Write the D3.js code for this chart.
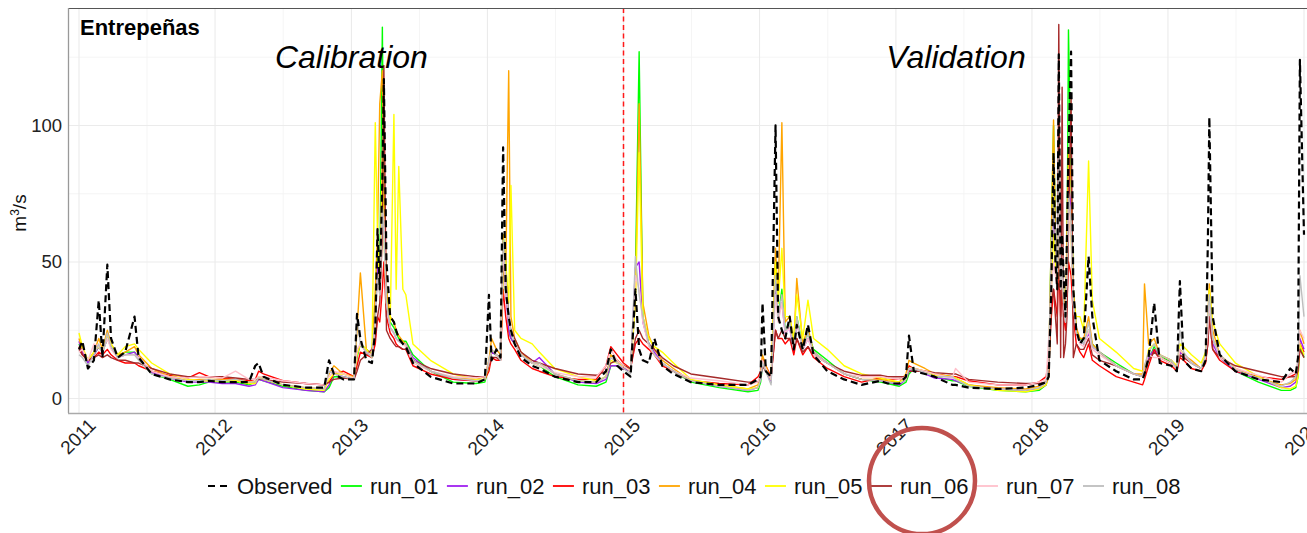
<!DOCTYPE html>
<html>
<head>
<meta charset="utf-8">
<script src="https://cdn.jsdelivr.net/npm/d3@7"></script>
<style>
  body { margin: 0; background: #fff; }
  text { font-family: "Liberation Sans", Arial, sans-serif; }
</style>
</head>
<body>
<svg id="chart" width="1307" height="533"></svg>
<script>
// daily flow samples (one line per year)
const dates = [
  '2011-01-01','2011-01-10','2011-01-25','2011-02-10','2011-02-23','2011-03-05','2011-03-18','2011-03-28','2011-04-15','2011-05-05','2011-05-30','2011-06-10','2011-07-15','2011-09-01','2011-10-20','2011-11-20','2011-12-15',
  '2012-01-20','2012-02-25','2012-04-01','2012-04-18','2012-04-27','2012-05-10','2012-07-01','2012-09-01','2012-10-20','2012-11-02','2012-11-15','2012-12-10',
  '2013-01-08','2013-01-16','2013-01-25','2013-02-10','2013-02-25','2013-03-06','2013-03-12','2013-03-18','2013-03-25','2013-03-29','2013-04-05','2013-04-15','2013-04-25','2013-05-01','2013-05-08','2013-05-19','2013-05-27','2013-06-15','2013-08-01','2013-10-01','2013-12-01','2013-12-25',
  '2014-01-05','2014-01-12','2014-01-25','2014-02-05','2014-02-12','2014-02-19','2014-02-27','2014-03-05','2014-03-15','2014-04-01','2014-05-01','2014-05-20','2014-07-01','2014-09-01','2014-10-20','2014-11-15','2014-11-28','2014-12-15',
  '2015-01-01','2015-01-20','2015-02-02','2015-02-12','2015-02-22','2015-03-10','2015-03-25','2015-04-15','2015-05-15','2015-07-01','2015-09-15','2015-12-01','2015-12-28',
  '2016-01-04','2016-01-09','2016-01-18','2016-02-01','2016-02-13','2016-02-20','2016-03-01','2016-03-10','2016-03-22','2016-04-02','2016-04-10','2016-04-26','2016-05-10','2016-05-25','2016-07-01','2016-08-15','2016-10-01','2016-11-20','2016-12-10',
  '2017-01-10','2017-01-28','2017-02-05','2017-02-18','2017-03-20','2017-04-15','2017-06-01','2017-06-10','2017-07-15','2017-10-01','2017-12-15',
  '2018-01-20','2018-02-08','2018-02-15','2018-02-22','2018-02-28','2018-03-05','2018-03-10','2018-03-14','2018-03-19','2018-03-23','2018-03-27','2018-04-01','2018-04-05','2018-04-09','2018-04-16','2018-04-22','2018-04-30','2018-05-10','2018-05-20','2018-06-02','2018-06-12','2018-07-01','2018-08-15','2018-10-01','2018-10-25','2018-10-30','2018-11-10','2018-11-25','2018-12-10',
  '2019-01-10','2019-01-25','2019-02-02','2019-02-12','2019-03-05','2019-03-31','2019-04-12','2019-04-18','2019-04-22','2019-05-01','2019-05-20','2019-07-01','2019-09-01','2019-11-01','2019-11-25','2019-12-10','2019-12-16','2019-12-21',
  '2020-01-01'
];

const observed = [
  18, 21, 11, 14, 36, 15, 49, 22, 15, 17, 30, 15, 9, 7, 6, 6, 6.5,
  6, 6, 6, 12, 13, 8, 5, 4, 4, 14, 9, 7,
  7, 31, 22, 14, 13, 25, 62, 40, 80, 117, 50, 30, 28, 25, 22, 20, 19, 13, 8, 5.5, 5.5, 7,
  38, 14, 18, 15, 92, 40, 30, 25, 20, 15, 12, 11, 8, 6, 6, 10, 18, 12,
  10, 8, 40, 18, 14, 13, 22, 12, 9, 6, 5, 5, 7,
  8, 35, 10, 8, 100, 30, 25, 22, 30, 18, 27, 18, 27, 16, 10, 7, 5, 6.5, 5.5,
  5.5, 8, 23, 10, 9, 8, 5, 5, 4, 3.5, 4,
  5, 6, 8, 40, 90, 50, 40, 126, 40, 60, 45, 30, 60, 90, 127, 40, 25, 20, 22, 52, 30, 14, 10, 7, 7, 9, 15, 35, 13,
  12, 10, 43, 14, 11, 10, 14, 57, 103, 30, 16, 10, 7, 6, 11, 9, 15, 124,
  60
];

const run01 = [
  20, 17, 13, 16, 19, 17, 22, 19, 15, 17, 17, 15, 9, 7, 4.5, 5, 6,
  6, 6, 5, 6, 7, 6.5, 4.5, 3, 2.5, 4, 8, 8,
  7, 15, 20, 18, 16, 35, 55, 45, 136, 70, 40, 28, 26, 24, 22, 21, 21, 16, 10, 6, 5.5, 6,
  12, 17, 16, 15, 60, 50, 25, 22, 20, 16, 13, 12, 8, 5, 4.5, 6, 12, 12,
  11, 10, 45, 127, 30, 20, 16, 13, 10, 6, 4, 2.5, 3,
  6, 12, 10, 6, 45, 30, 40, 25, 28, 18, 30, 19, 24, 18, 14, 9, 7, 6, 5.5,
  4.5, 6, 9, 11, 9, 8, 6.5, 6.5, 4.5, 3, 2.5,
  3, 5, 10, 60, 100, 60, 45, 70, 40, 50, 40, 30, 50, 135, 80, 40, 25, 22, 20, 25, 20, 17, 13, 9, 8, 10, 14, 19, 16,
  13, 11, 18, 16, 13, 11, 15, 25, 35, 22, 15, 10, 6, 3, 3, 4, 8, 20,
  15
];

const run02 = [
  21, 17, 13, 16, 19, 17, 22, 19, 15, 16, 17, 15, 9.5, 7.5, 6, 6, 6,
  5.5, 5.5, 4.5, 5, 7, 6.5, 4, 3, 2.5, 5, 9, 8,
  7, 16, 20, 17, 15, 30, 50, 40, 90, 80, 35, 26, 24, 22, 21, 20, 20, 15, 10, 7, 6.5, 7,
  12, 17, 16, 15, 55, 40, 25, 22, 20, 16, 13, 15, 9, 6, 5.5, 7, 12, 12,
  11, 10, 48, 50, 28, 20, 17, 13, 10, 6.5, 4.5, 3, 4,
  7, 12, 10, 6, 42, 30, 35, 24, 26, 17, 28, 18, 22, 17, 13, 9, 7, 6.5, 6,
  5, 7, 10, 11, 9, 7.5, 7, 6.5, 5, 3.5, 3,
  3.5, 5, 9, 50, 70, 55, 45, 80, 40, 50, 35, 28, 45, 80, 70, 35, 24, 21, 20, 24, 19, 17, 12, 9, 8, 10, 15, 18, 16,
  14, 11, 17, 16, 13, 11, 15, 25, 38, 20, 15, 10, 7, 4, 4.5, 6, 10, 22,
  18
];

const run03 = [
  19, 16, 14, 15, 17, 16, 18, 16, 14, 13, 13, 12, 10, 8.5, 7.5, 9.5, 8,
  7.5, 7, 6.5, 7, 10, 9, 6.5, 5.5, 5, 6, 9, 10,
  8, 12, 17, 16, 15, 20, 30, 28, 40, 50, 30, 24, 22, 20, 19, 18, 18, 12, 9, 7, 6.5, 7,
  10, 15, 14, 14, 40, 30, 22, 20, 18, 14, 11, 10, 8, 7, 7, 12, 19, 16,
  13, 11, 20, 22, 20, 18, 16, 12, 10, 6.5, 5.5, 5, 8,
  10, 15, 12, 8, 25, 22, 22, 20, 22, 16, 22, 16, 19, 15, 11, 8, 6, 7.5, 7,
  7, 8, 12, 11, 10, 9, 8, 8, 6.5, 5, 5,
  6, 8, 14, 30, 40, 35, 30, 50, 30, 40, 30, 25, 35, 50, 45, 30, 20, 17, 15, 20, 14, 12, 8, 6, 5, 7, 12, 18, 14,
  12, 10, 15, 14, 11, 10, 13, 20, 30, 18, 14, 10, 8, 7, 8, 9, 12, 20,
  17
];

const run04 = [
  22, 18, 14, 17, 22, 18, 25, 20, 16, 17, 19, 16, 11, 8, 6.5, 7, 7,
  7, 7, 6, 6, 8, 7, 5, 4, 3.5, 9, 12, 9,
  8, 25, 46, 18, 16, 40, 60, 108, 120, 80, 40, 30, 28, 25, 23, 21, 20, 14, 10, 7.5, 7, 8,
  14, 22, 18, 16, 60, 45, 120, 30, 22, 17, 13, 13, 9, 6.5, 6, 8, 16, 14,
  12, 11, 40, 108, 35, 23, 18, 14, 11, 6.5, 5, 3.5, 5,
  9, 16, 12, 7, 55, 35, 101, 28, 30, 20, 44, 20, 26, 17, 13, 9, 7, 7, 6.5,
  6, 9, 14, 13, 11, 9, 8, 7.5, 5, 4, 3.5,
  4.5, 6, 12, 60, 102, 60, 50, 90, 45, 50, 40, 30, 60, 90, 80, 40, 26, 22, 22, 30, 20, 17, 12, 9, 9, 42, 20, 22, 16,
  14, 11, 18, 16, 14, 11, 16, 30, 42, 25, 16, 11, 7.5, 5, 5.5, 7, 12, 25,
  20
];

const run05 = [
  24, 19, 14, 17, 19, 17, 23, 20, 16, 19, 20, 18, 13, 9, 7, 6.5, 6.5,
  6.5, 6.5, 5.5, 5.5, 8, 7, 5, 3.5, 3, 7, 9, 9,
  7.5, 16, 20, 18, 15, 101, 60, 40, 90, 60, 35, 28, 104, 40, 85, 40, 38, 20, 14, 9, 7, 7,
  12, 18, 16, 15, 45, 50, 35, 78, 25, 22, 20, 17, 11, 8, 6.5, 8, 14, 13,
  12, 10, 35, 90, 30, 22, 19, 17, 13, 7, 5, 3.5, 4,
  8, 13, 11, 7, 50, 35, 55, 30, 30, 22, 38, 22, 36, 22, 18, 12, 9, 7.5, 7,
  6, 7, 11, 11, 10, 8.5, 8, 7.5, 5, 3, 2.5,
  3.5, 5, 8, 40, 60, 50, 40, 70, 40, 45, 35, 30, 40, 70, 60, 35, 30, 30, 25, 87, 36, 22, 17, 11, 10, 10, 18, 20, 16,
  14, 12, 20, 19, 16, 13, 17, 25, 40, 28, 20, 13, 8, 4, 3.5, 4.5, 8, 20,
  16
];

const run06 = [
  18, 16, 14, 15, 16, 15, 16, 15, 14, 14, 13, 13, 11, 9, 8, 8, 8,
  8, 7.5, 7, 7, 7, 7, 6, 5.5, 5, 6, 7, 7.5,
  7, 10, 14, 16, 18, 22, 30, 35, 60, 122, 25, 22, 20, 19, 19, 18, 18, 14, 11, 9, 8, 8,
  12, 15, 15, 14, 50, 45, 30, 25, 22, 17, 14, 13, 11, 9, 8.5, 10, 13, 14,
  12, 11, 22, 25, 22, 20, 18, 15, 12, 9, 7.5, 6, 6,
  8, 12, 10, 8, 25, 22, 25, 22, 22, 18, 22, 17, 19, 16, 13, 10, 8.5, 8.5, 8,
  8, 8, 10, 10, 10, 9.5, 9, 9, 7, 6, 5.5,
  5.5, 6, 8, 35, 40, 30, 20, 137, 15, 114, 15, 20, 30, 60, 110, 15, 20, 18, 18, 22, 16, 14, 12, 9, 8, 9, 14, 17, 15,
  13, 11, 16, 15, 13, 11, 14, 20, 30, 18, 15, 12, 10, 8, 8, 8, 10, 18,
  15
];

const run07 = [
  17, 18, 14, 20, 19, 17, 22, 18, 15, 16, 16, 15, 10, 8, 7.5, 8, 8,
  7.5, 10, 7, 7, 8, 8, 6.5, 5.5, 5, 8, 10, 9,
  7.5, 18, 20, 17, 16, 28, 45, 38, 70, 65, 35, 26, 24, 22, 21, 20, 19, 13, 10, 8, 7.5, 8,
  13, 18, 16, 15, 55, 40, 28, 25, 20, 16, 13, 12, 9.5, 8, 8, 12, 18, 14,
  12, 10, 45, 40, 28, 19, 16, 13, 10, 7.5, 6.5, 5, 6,
  9, 14, 11, 7, 38, 28, 35, 24, 26, 18, 28, 18, 22, 16, 13, 9, 8, 8, 7.5,
  7, 8, 11, 11, 10, 9, 7.5, 11, 6, 5, 5,
  6, 7, 22, 40, 50, 45, 40, 80, 40, 50, 35, 28, 45, 70, 60, 35, 24, 20, 19, 25, 18, 16, 12, 9, 8, 12, 16, 15, 15,
  13, 11, 18, 16, 13, 11, 15, 25, 35, 22, 15, 11, 8.5, 6, 9, 10, 14, 25,
  22
];

const run08 = [
  16, 15, 12, 16, 20, 16, 24, 19, 15, 16, 16, 14, 9, 7.5, 6.5, 6.5, 7,
  6.5, 7, 6, 6, 7.5, 7, 5, 4, 3.5, 10, 9, 8,
  7, 30, 20, 17, 15, 30, 45, 38, 70, 60, 35, 26, 24, 22, 21, 20, 20, 14, 10, 7.5, 6.5, 7,
  14, 18, 16, 14, 58, 45, 28, 25, 20, 16, 13, 13, 9, 6.5, 6, 8, 15, 13,
  11, 9, 52, 38, 30, 20, 16, 13, 10, 6.5, 4.5, 3, 4,
  7, 13, 10, 5, 45, 30, 38, 25, 28, 18, 30, 18, 24, 17, 13, 9, 7, 6.5, 6,
  5.5, 7, 11, 11, 9.5, 8, 8, 7, 4.5, 3.5, 3,
  4, 6, 12, 55, 70, 60, 45, 90, 40, 50, 35, 28, 45, 75, 65, 35, 24, 21, 20, 28, 19, 17, 12, 9, 8, 12, 17, 20, 16,
  14, 11, 25, 17, 13, 11, 16, 30, 38, 22, 16, 10.5, 7.5, 4.5, 6, 8, 14, 45,
  30
];

const seriesNames = ['Observed', 'run_01', 'run_02', 'run_03', 'run_04', 'run_05', 'run_06', 'run_07', 'run_08'];
const seriesValues = [observed, run01, run02, run03, run04, run05, run06, run07, run08];
const seriesColors = ['#000000', '#00ff00', '#a020f0', '#ff0000', '#ffa500', '#ffff00', '#a52a2a', '#ffc0cb', '#bebebe'];
const yTicks = [0, 50, 100];
const yMinorTicks = [25, 75, 125];
const xTickYears = [2011, 2012, 2013, 2014, 2015, 2016, 2017, 2018, 2019, 2020];
const splitDate = '2015-01-01';

const parse = d3.utcParse('%Y-%m-%d');
const svg = d3.select('#chart');

const panel = { left: 68, top: 8, right: 1312, bottom: 413 };

const x = d3.scaleUtc()
    .domain([parse('2011-01-01'), parse('2020-01-01')])
    .range([79, 1304]);

const y = d3.scaleLinear()
    .domain([-5.3, 143])
    .range([panel.bottom, panel.top]);

svg.append('rect').attr('width', 1307).attr('height', 533).attr('fill', '#fff');

svg.append('clipPath').attr('id', 'clip')
  .append('rect')
    .attr('x', panel.left).attr('y', panel.top)
    .attr('width', panel.right - panel.left).attr('height', panel.bottom - panel.top);

// grid
const yearDates = xTickYears.map(yr => new Date(Date.UTC(yr, 0, 1)));
const midYears = xTickYears.slice(0, -1).map((yr, i) => new Date((+yearDates[i] + +yearDates[i + 1]) / 2));
const grid = svg.append('g');

grid.selectAll('.yminor').data(yMinorTicks).enter().append('line')
    .attr('x1', panel.left).attr('x2', panel.right)
    .attr('y1', d => y(d)).attr('y2', d => y(d))
    .attr('stroke', '#f3f3f3').attr('stroke-width', 0.8);
grid.selectAll('.xminor').data(midYears).enter().append('line')
    .attr('x1', d => x(d)).attr('x2', d => x(d))
    .attr('y1', panel.top).attr('y2', panel.bottom)
    .attr('stroke', '#f3f3f3').attr('stroke-width', 0.8);
grid.selectAll('.ymajor').data(yTicks).enter().append('line')
    .attr('x1', panel.left).attr('x2', panel.right)
    .attr('y1', d => y(d)).attr('y2', d => y(d))
    .attr('stroke', '#ebebeb').attr('stroke-width', 1.1);
grid.selectAll('.xmajor').data(yearDates).enter().append('line')
    .attr('x1', d => x(d)).attr('x2', d => x(d))
    .attr('y1', panel.top).attr('y2', panel.bottom)
    .attr('stroke', '#ebebeb').attr('stroke-width', 1.1);

// calibration / validation split, snapped to the pixel grid
const splitX = Math.round(x(parse(splitDate))) + 0.5;
svg.append('line')
    .attr('x1', splitX).attr('x2', splitX)
    .attr('y1', panel.top).attr('y2', panel.bottom)
    .attr('stroke', '#ff1a1a').attr('stroke-width', 1.5)
    .attr('stroke-dasharray', '5,3.5');

// series
const line = d3.line()
    .x(d => x(d.date))
    .y(d => y(d.value));

const plot = svg.append('g').attr('clip-path', 'url(#clip)');
const drawOrder = [1, 2, 3, 4, 5, 6, 7, 8, 0];
drawOrder.forEach(i => {
    const pts = dates.map((d, j) => ({ date: parse(d), value: seriesValues[i][j] }));
    plot.append('path')
        .datum(pts)
        .attr('fill', 'none')
        .attr('stroke', seriesColors[i])
        .attr('stroke-width', i === 0 ? 2.2 : 1.4)
        .attr('stroke-linejoin', 'round')
        .attr('stroke-dasharray', i === 0 ? '7,4' : null)
        .attr('d', line);
});

// panel border
svg.append('line').attr('x1', panel.left).attr('x2', panel.right).attr('y1', panel.top + 0.5).attr('y2', panel.top + 0.5)
    .attr('stroke', '#555').attr('stroke-width', 1.2);
svg.append('line').attr('x1', panel.left + 0.5).attr('x2', panel.left + 0.5).attr('y1', panel.top).attr('y2', panel.bottom)
    .attr('stroke', '#999').attr('stroke-width', 1.3);
svg.append('line').attr('x1', panel.left).attr('x2', panel.right).attr('y1', panel.bottom + 0.5).attr('y2', panel.bottom + 0.5)
    .attr('stroke', '#aaa').attr('stroke-width', 1.3);

// axes
const yAxis = svg.append('g')
    .attr('transform', `translate(${panel.left},0)`)
    .call(d3.axisLeft(y).tickValues(yTicks).tickSize(0).tickPadding(6));
yAxis.select('.domain').remove();
yAxis.selectAll('text').attr('font-size', 18.5).attr('fill', '#222')
    .style('font-family', '"Liberation Sans", Arial, sans-serif');

const xAxis = svg.append('g')
    .attr('transform', `translate(0,${panel.bottom})`)
    .call(d3.axisBottom(x).tickValues(yearDates).tickFormat(d3.utcFormat('%Y')).tickSize(0));
xAxis.select('.domain').remove();
xAxis.selectAll('text')
    .attr('font-size', 19).attr('fill', '#222')
    .style('font-family', '"Liberation Sans", Arial, sans-serif')
    .attr('text-anchor', 'end')
    .attr('dy', '0.71em')
    .attr('y', 0)
    .attr('transform', 'translate(8,4) rotate(-45)');

// y title
const yTitle = svg.append('text')
    .attr('transform', 'translate(26,213) rotate(-90)')
    .attr('text-anchor', 'middle')
    .attr('font-size', 19)
    .attr('fill', '#111');
yTitle.append('tspan').text('m');
yTitle.append('tspan').attr('baseline-shift', 'super').attr('font-size', 12).text('3');
yTitle.append('tspan').text('/s');

// labels
svg.append('text')
    .attr('x', 80).attr('y', 35)
    .attr('font-size', 22).attr('font-weight', 'bold')
    .text('Entrepeñas');

svg.append('text')
    .attr('x', x(parse('2013-01-01'))).attr('y', 68)
    .attr('text-anchor', 'middle')
    .attr('font-size', 32).attr('font-style', 'italic')
    .text('Calibration');

svg.append('text')
    .attr('x', 956).attr('y', 68)
    .attr('text-anchor', 'middle')
    .attr('font-size', 32).attr('font-style', 'italic')
    .text('Validation');

// legend
const legend = svg.append('g');
let lx = 208;
const ly = 486;
seriesNames.forEach((name, i) => {
    legend.append('line')
        .attr('x1', lx).attr('x2', lx + 21)
        .attr('y1', ly).attr('y2', ly)
        .attr('stroke', seriesColors[i])
        .attr('stroke-width', i === 0 ? 2.2 : 1.8)
        .attr('stroke-dasharray', i === 0 ? '7,5' : null);
    const t = legend.append('text')
        .attr('x', lx + 29).attr('y', ly + 8)
        .attr('font-size', 22)
        .attr('fill', '#111')
        .text(name);
    lx += 29 + t.node().getComputedTextLength() + 8.5;
});

// highlight circle
svg.append('circle')
    .attr('cx', 922).attr('cy', 481).attr('r', 53)
    .attr('fill', 'none')
    .attr('stroke', '#c0504d')
    .attr('stroke-width', 4.5);
</script>
</body>
</html>
